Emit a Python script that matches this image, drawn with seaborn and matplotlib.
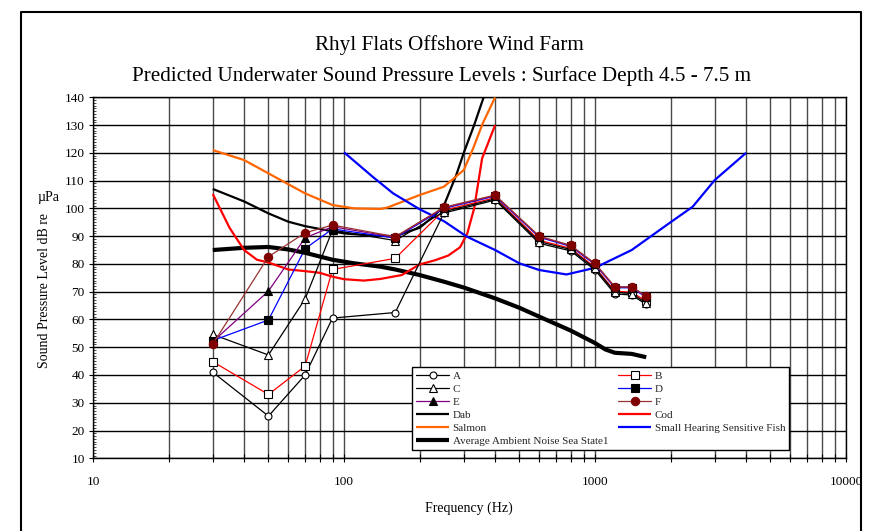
import numpy as np
import pandas as pd
import matplotlib
matplotlib.use("Agg")
import matplotlib.pyplot as plt
import seaborn as sns
from matplotlib.ticker import FixedLocator, MultipleLocator, NullFormatter, FixedFormatter
from matplotlib.lines import Line2D

# ---------------- data ----------------
freqs = [30, 50, 70, 90, 160, 250, 400, 600, 800, 1000, 1200, 1400, 1600]
A = [41.0, 25.2, 40.0, 60.5, 62.5, 98.3, 103.0, 87.4, 84.7, 77.8, 69.2, 68.8, 65.4]
B = [44.8, 33.0, 43.2, 78.0, 82.0, 99.3, 103.8, 88.5, 85.6, 78.8, 70.2, 69.8, 66.6]
C = [54.6, 47.2, 67.4, 92.2, 88.4, 98.8, 103.4, 88.0, 85.2, 78.4, 69.8, 69.3, 66.0]
D = [52.4, 59.8, 85.5, 92.6, 89.3, 100.0, 104.4, 89.6, 86.3, 79.8, 71.4, 71.4, 68.0]
E = [52.0, 70.2, 89.4, 93.4, 89.6, 100.2, 104.6, 89.8, 86.5, 80.0, 71.6, 71.6, 68.2]
F = [51.1, 82.6, 91.2, 94.0, 89.8, 100.4, 104.8, 90.0, 86.7, 80.2, 71.8, 71.8, 68.4]

dab_f = [30, 40, 50, 60, 70, 80, 100, 130, 160, 200, 230, 250, 280, 300, 330, 360, 400]
dab_v = [107, 102.5, 98.2, 95.2, 93.6, 92.6, 91.0, 90.2, 90.0, 93.0, 97.5, 101.0, 112.0, 120.0, 130.0, 140.0, 152.0]

cod_f = [30, 35, 40, 45, 50, 60, 70, 80, 90, 100, 120, 140, 170, 200, 230, 260, 290, 310, 330, 355, 400]
cod_v = [105.2, 93.0, 85.0, 81.5, 80.5, 78.0, 77.4, 76.8, 75.4, 74.5, 74.0, 74.6, 76.0, 79.8, 81.3, 83.0, 86.0, 91.0, 100.0, 118.0, 130.0]

sal_f = [30, 40, 50, 70, 90, 110, 140, 150, 200, 250, 300, 325, 357, 400]
sal_v = [121.0, 117.4, 112.6, 105.4, 101.2, 100.0, 99.8, 100.4, 104.8, 107.8, 113.8, 121.0, 130.6, 140.0]

shs_f = [100, 130, 157, 200, 250, 309, 400, 500, 600, 770, 1000, 1400, 2000, 2450, 3000, 4000]
shs_v = [120.2, 111.4, 105.4, 99.7, 95.4, 89.8, 85.0, 80.2, 77.8, 76.2, 78.6, 85.0, 95.0, 100.6, 110.2, 120.0]

amb_f = [30, 40, 50, 60, 70, 90, 110, 140, 160, 200, 250, 300, 400, 500, 600, 800, 1000, 1100, 1200, 1400, 1600]
amb_v = [85.0, 85.8, 86.1, 85.2, 84.0, 81.5, 80.2, 79.0, 78.0, 76.0, 73.6, 71.5, 67.6, 64.2, 61.0, 56.0, 51.5, 49.2, 48.0, 47.6, 46.4]

x_major = [10, 100, 1000, 10000]
x_labels = ["10", "100", "1000", "10000"]
y_ticks = list(range(10, 141, 10))

# ---------------- style ----------------
sns.set_theme(style="white")
plt.rcParams["font.family"] = ["Liberation Serif", "DejaVu Serif"]

W, H = 876, 531
fig = plt.figure(figsize=(W / 100, H / 100), dpi=100)
fig.patch.set_facecolor("white")
L, R, T, Bt = 93, 846, 97.3, 458.3
ax = fig.add_axes([L / W, 1 - Bt / H, (R - L) / W, (Bt - T) / H])
ax.set_facecolor("white")
ax.set_xscale("log")
ax.set_xlim(10, 10000)
ax.set_ylim(10, 140)


def curve(xs, ys, color, lw, label):
    sns.lineplot(x=xs, y=ys, ax=ax, color=color, lw=lw, label=label,
                 sort=False, estimator=None, zorder=3,
                 solid_joinstyle="round", solid_capstyle="butt")


def series(ys, color, marker, mfc, mec, ms, label):
    sns.lineplot(x=freqs, y=ys, ax=ax, color=color, lw=0.9, marker=marker,
                 markerfacecolor=mfc, markeredgecolor=mec, markersize=ms,
                 markeredgewidth=0.8, label=label, sort=False, estimator=None,
                 zorder=4)


curve(amb_f, amb_v, "black", 3.0, "Average Ambient Noise Sea State1")
curve(dab_f, dab_v, "black", 1.6, "Dab")
curve(sal_f, sal_v, "#ff6600", 1.6, "Salmon")
curve(cod_f, cod_v, "#ff0000", 1.6, "Cod")
curve(shs_f, shs_v, "#0000ff", 1.6, "Small Hearing Sensitive Fish")

series(A, "black", "o", "white", "black", 5, "A")
series(B, "#ff0000", "s", "white", "black", 5.5, "B")
series(C, "black", "^", "white", "black", 5.5, "C")
series(D, "#0000ff", "s", "black", "black", 6, "D")
series(E, "#800080", "^", "black", "black", 6, "E")
series(F, "#993333", "o", "#800000", "#800000", 6, "F")

# ---------------- axes / grid ----------------
minor = [m * 10 ** e for e in range(1, 4) for m in range(2, 10)]
ax.xaxis.set_major_locator(FixedLocator(x_major))
ax.xaxis.set_major_formatter(FixedFormatter(x_labels))
ax.xaxis.set_minor_locator(FixedLocator(minor))
ax.xaxis.set_minor_formatter(NullFormatter())
ax.yaxis.set_major_locator(FixedLocator(y_ticks))
ax.yaxis.set_minor_locator(MultipleLocator(1))

ax.grid(True, which="major", axis="y", color="black", lw=1.0, zorder=0)
ax.grid(True, which="both", axis="x", color="#4a4a4a", lw=1.0, zorder=0)
ax.set_axisbelow(True)
for s in ax.spines.values():
    s.set_color("black")
    s.set_linewidth(1.0)

ax.tick_params(axis="both", which="major", direction="inout", length=6, width=0.8,
               color="black", labelsize=9.5, labelcolor="black")
ax.tick_params(axis="x", which="major", pad=10)
ax.tick_params(axis="y", which="major", pad=3)
ax.tick_params(axis="x", which="minor", direction="inout", length=6, width=0.8, color="black")
ax.tick_params(axis="y", which="minor", direction="in", length=2, width=0.5, color="black")
ax.tick_params(left=True, bottom=True, top=False, right=False)
ax.tick_params(which="minor", left=True, bottom=True, top=False, right=False)

ax.set_xlabel("")
ax.set_ylabel("")

# ---------------- legend ----------------
handles, labels = ax.get_legend_handles_labels()
hmap = dict(zip(labels, handles))
order = ["A", "C", "E", "Dab", "Salmon", "Average Ambient Noise Sea State1",
         "B", "D", "F", "Cod", "Small Hearing Sensitive Fish"]
leg = ax.legend([hmap[k] for k in order], order, ncol=2, loc="upper left",
                bbox_to_anchor=((412 - L) / (R - L), (Bt - 367) / (Bt - T)),
                borderaxespad=0, fontsize=8, frameon=True, fancybox=False,
                edgecolor="black", framealpha=1, handlelength=3.0,
                handletextpad=0.3, labelspacing=0.3, columnspacing=0.9,
                borderpad=0.35)
leg.get_frame().set_linewidth(1.0)
leg.set_zorder(10)

# ---------------- texts ----------------
fig.text(449 / W, 1 - 45 / H, "Rhyl Flats Offshore Wind Farm", ha="center",
         va="center", fontsize=15.2, color="black")
fig.text(442 / W, 1 - 76 / H,
         "Predicted Underwater Sound Pressure Levels : Surface Depth 4.5 - 7.5 m",
         ha="center", va="center", fontsize=15.2, color="black")
fig.text(469 / W, 1 - 508 / H, "Frequency (Hz)", ha="center", va="center",
         fontsize=10, color="black")
fig.text(45 / W, 1 - 290 / H, "Sound Pressure Level dB re", rotation=90,
         ha="center", va="center", fontsize=10, color="black")
fig.text(49 / W, 1 - 198 / H, "\u00b5Pa", ha="center", va="center",
         fontsize=10, color="black")

# outer frame (left, top, right)
fig.add_artist(Line2D([21 / W, 21 / W, 861 / W, 861 / W],
                      [0, 1 - 12 / H, 1 - 12 / H, 0],
                      transform=fig.transFigure, color="black", lw=1.5))

fig.savefig("out.png", dpi=100, facecolor="white")
